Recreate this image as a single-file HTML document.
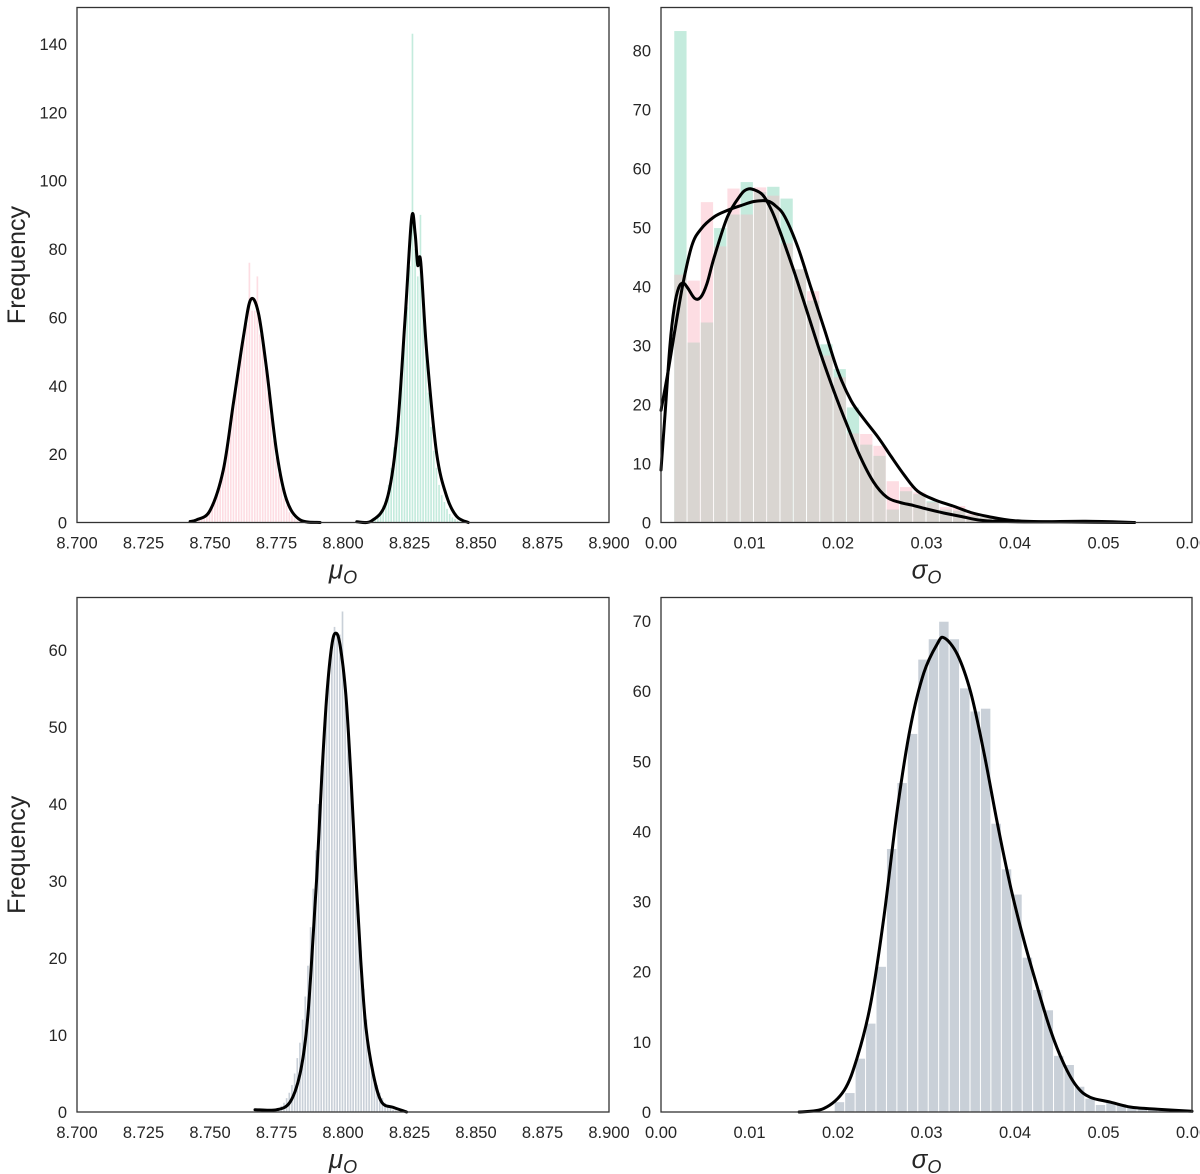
<!DOCTYPE html>
<html><head><meta charset="utf-8">
<style>
html,body{margin:0;padding:0;background:#fff;overflow:hidden;width:1200px;height:1174px}
svg{display:block}
text{font-family:"Liberation Sans",sans-serif;fill:#262626}
</style></head>
<body>
<svg id="fig" width="1200" height="1174" viewBox="0 0 1200 1174" xmlns="http://www.w3.org/2000/svg"></svg>
<script>
// ---------- data ----------
const tlPinkStart = 8.7455;
const tlPinkCounts = [1,1.5,2,2.5,3,4.5,7,9,12,15,20,25,30,35,40,45,50,54,58,76,62,62,72,55,52,45,38,31,24,19,14,10,7,5,3,2,1.2,0.6,0.3,0.1];
const tlGreenStart = 8.8088;
const tlGreenCounts = [0.2,0.3,0.5,1,2,3,5,7,11,16,22,28,36,45,55,63,75,143,80,72,90,62,50,38,28,21,16,11,8,6,4,2.5,1.5,1,0.5,0.3,0.2,0.1];
const tlPinkKdeX = [8.7425,8.7450,8.7500,8.7550,8.7588,8.7626,8.7653,8.7682,8.7713,8.7751,8.7788,8.7838,8.7914];
const tlPinkKdeY = [0.3,0.8,3.5,15.4,34.9,54.5,65.2,61.3,44.7,20.3,6.6,0.8,0];
const tlGreenKdeX = [8.8052,8.8108,8.8164,8.8202,8.8233,8.8258,8.8271,8.8281,8.8292,8.8315,8.8352,8.8390,8.8427,8.8471];
const tlGreenKdeY = [0.2,0.5,6.4,25.0,59.3,89,84.6,75.3,76.3,49.5,20.3,7.6,1.8,0];
const trStart = 0.0015;
const trGreenCounts = [83.3,30.5,33.9,49.9,52.2,57.7,56,56.9,54.9,42.9,37.6,30.2,26,19.5,13.2,11.3,2.2,5.3,4.8,3.6,2.2,2,1.2,0.9,0.5,0.4,0.3,0.2,0.2,0.1,0.1,0.1,0.2,0.1];
const trPinkCounts = [42,41,54.3,46.8,56.6,52.2,56.8,55.4,47.3,42.9,39.2,28.3,24.6,15.1,15,13,7,6,5.1,3.4,2.6,2.8,1.4,0.9,0.5,0.5,0.3,0.2,0.1,0.1,0.1,0.1,0.1,0.1];
const trKdeAX = [0,0.0008,0.0015,0.0025,0.0035,0.0045,0.006,0.0075,0.009,0.0105,0.012,0.013,0.014,0.0155,0.017,0.0185,0.02,0.0215,0.023,0.0245,0.026,0.0275,0.029,0.031,0.033,0.035,0.037,0.04,0.045,0.0535];
const trKdeAY = [19,25.6,32,40.6,47,49.7,51.8,52.9,53.7,54.4,54.5,53.6,51.8,46.5,39.5,32.6,25.6,20.6,17.4,14.5,11.2,8,5.3,3.8,2.8,1.7,1,0.3,0.1,0];
const trKdeBX = [0,0.0005,0.001,0.0015,0.002,0.0025,0.003,0.0038,0.0045,0.0052,0.006,0.0075,0.009,0.0098,0.0105,0.0115,0.0125,0.0135,0.015,0.0165,0.018,0.0195,0.021,0.0225,0.024,0.0255,0.027,0.0285,0.03,0.032,0.034,0.036,0.038,0.042,0.048,0.0535];
const trKdeBY = [8.9,19.2,29.9,36.5,39.8,40.6,39.8,38,38.2,40.5,44.9,51.8,55.5,56.5,56.4,55.5,52.9,49.1,42.7,35.8,28.8,22.4,16.6,11.2,6.9,4.3,3.4,2.9,2.3,1.6,1,0.4,0.2,0.1,0.2,0];
const blStart = 8.7745;
const blCounts = [0.3,0.5,0.8,1.2,1.8,2.5,3.5,5,7,9,12,15,19,24,29,34,40,45,50,55,58,61,63,62,62,65,56,51,45,39,33,27,21,16,12,8.5,6,4.5,3.5,2.5,1.8,1.2,0.8,0.5,0.3,0.2];
const blKdeX = [8.7669,8.7751,8.7801,8.7838,8.7864,8.7882,8.7901,8.7920,8.7939,8.7958,8.7973,8.7989,8.8011,8.8030,8.8049,8.8067,8.8086,8.8114,8.8145,8.8189,8.8239];
const blKdeY = [0.3,0.3,1.3,4.9,11,19.6,30.4,43.4,54.1,60.6,62.2,60.6,54.1,43.4,30.4,19.6,11,4.9,1.3,0.6,0];
const brStart = 0.01963;
const brCounts = [1.4,2.7,7.6,12.6,20.7,37.5,46.9,53.9,64.5,67.4,69.9,67.4,60.4,57.1,57.5,41.1,34.6,31.0,22.0,17.4,14.5,8.0,6.7,3.6,1.9,1.0,1.4,1.1,0.7,0.4,0.3,0.2];
const brKdeX = [0.0156,0.0184,0.0207,0.0222,0.0237,0.0252,0.0267,0.0282,0.0297,0.0312,0.0320,0.0335,0.0350,0.0365,0.0380,0.0395,0.0410,0.0425,0.0440,0.0455,0.0470,0.0485,0.0508,0.0531,0.0561,0.0600];
const brKdeY = [0,0.5,3.1,7.9,15.5,27.9,43.1,55,62.6,66.7,67.6,65.2,59.8,51.2,41.2,32.1,24.5,17.9,11.7,6.9,3.6,2.1,1.4,0.7,0.4,0.1];
const muTicks = ["8.700","8.725","8.750","8.775","8.800","8.825","8.850","8.875","8.900"];
const sigTicks = ["0.00","0.01","0.02","0.03","0.04","0.05","0.06"];
const tlYTicks = [0,20,40,60,80,100,120,140];
const trYTicks = [0,10,20,30,40,50,60,70,80];
const blYTicks = [0,10,20,30,40,50,60];
const brYTicks = [0,10,20,30,40,50,60,70];

// ---------- drawing ----------
const NS = "http://www.w3.org/2000/svg";
const svg = document.getElementById('fig');
function mk(tag, attrs, parent){
  const e = document.createElementNS(NS, tag);
  for (const k in attrs) e.setAttribute(k, attrs[k]);
  (parent||svg).appendChild(e);
  return e;
}
function panel(name, x0, x1, y0, y1, xmin, xmax, ymax){
  const g = mk('g', {});
  
  
  const sx = v => x0 + (v - xmin) / (xmax - xmin) * (x1 - x0);
  const sy = v => y1 - v / ymax * (y1 - y0);
  return {g, sx, sy, x0, x1, y0, y1};
}
function bars(P, start, width, counts, color, name){
  counts.forEach((c, i) => {
    const a = P.sx(start + i*width), b = P.sx(start + (i+1)*width);
    const r = mk('rect', {x: a, y: P.sy(c), width: Math.max(0.6, b - a - 1), height: P.y1 - P.sy(c), fill: color}, P.g);
    
    
  });
}
function overlapBars(P, start, width, g, p, name){
  g.forEach((gv, i) => {
    const pv = p[i];
    const a = P.sx(start + i*width), b = P.sx(start + (i+1)*width);
    const w = Math.max(0.6, b - a - 1);
    const hi = Math.max(gv, pv), lo = Math.min(gv, pv);
    const top = mk('rect', {x: a, y: P.sy(hi), width: w, height: P.y1 - P.sy(hi), fill: gv >= pv ? '#c4ebdd' : '#fddde3'}, P.g);
    
    
    const ov = mk('rect', {x: a, y: P.sy(lo), width: w, height: P.y1 - P.sy(lo), fill: '#d9d5d1'}, P.g);
    
    
  });
}
function kde(P, xs, ys, name){
  const pts = xs.map((v, i) => [P.sx(v), P.sy(ys[i])]);
  let d = 'M' + pts[0][0].toFixed(1) + ',' + pts[0][1].toFixed(1);
  for (let i = 0; i < pts.length - 1; i++){
    const p0 = pts[Math.max(0, i-1)], p1 = pts[i], p2 = pts[i+1], p3 = pts[Math.min(pts.length-1, i+2)];
    const c1x = p1[0] + (p2[0]-p0[0])/6, c1y = p1[1] + (p2[1]-p0[1])/6;
    const c2x = p2[0] - (p3[0]-p1[0])/6, c2y = p2[1] - (p3[1]-p1[1])/6;
    d += ' C' + c1x.toFixed(1) + ',' + c1y.toFixed(1) + ' ' + c2x.toFixed(1) + ',' + c2y.toFixed(1) + ' ' + p2[0].toFixed(1) + ',' + p2[1].toFixed(1);
  }
  const p = mk('path', {d, fill: 'none', stroke: '#000', 'stroke-width': 3, 'stroke-linejoin': 'round', 'stroke-linecap': 'round'}, P.g);
  
  
}
function axes(P, xticks, xmin, step, yticks, xlab, showFreq){
  const f = mk('rect', {x: P.x0, y: P.y0, width: P.x1 - P.x0, height: P.y1 - P.y0, fill: 'none', stroke: '#333', 'stroke-width': 1.3}, P.g);
  
  
  xticks.forEach((t, i) => {
    const tx = mk('text', {x: P.sx(xmin + i*step), y: P.y1 + 26, 'font-size': 16.5, 'text-anchor': 'middle'}, P.g);
    tx.textContent = t;
    
    
  });
  yticks.forEach(t => {
    const ty = mk('text', {x: P.x0 - 10, y: P.sy(t) + 6, 'font-size': 16.5, 'text-anchor': 'end'}, P.g);
    ty.textContent = t;
    
    
  });
  const xl = mk('text', {x: (P.x0 + P.x1)/2, y: P.y1 + 56, 'font-size': 26, 'text-anchor': 'middle', 'font-style': 'italic'}, P.g);
  xl.innerHTML = xlab + '<tspan font-size="18" dy="5">O</tspan>';
  
  
  if (showFreq){
    const cy = (P.y0 + P.y1)/2;
    const yl = mk('text', {x: 25, y: cy, 'font-size': 25, 'text-anchor': 'middle', transform: 'rotate(-90 25 ' + cy + ')'}, P.g);
    yl.textContent = 'Frequency';
    
    
  }
}

const TL = panel('panel-mu-top', 77, 609, 7.5, 522.5, 8.7, 8.9, 515/3.418);
bars(TL, tlPinkStart, 0.001, tlPinkCounts, '#fddde3', 'pink-bar');
bars(TL, tlGreenStart, 0.001, tlGreenCounts, '#c4ebdd', 'green-bar');
kde(TL, tlPinkKdeX, tlPinkKdeY, 'kde-pink');
kde(TL, tlGreenKdeX, tlGreenKdeY, 'kde-green');
axes(TL, muTicks, 8.7, 0.025, tlYTicks, 'μ', true);

const TR = panel('panel-sigma-top', 661, 1192, 7.5, 522.5, 0, 0.06, 515/5.9);
overlapBars(TR, trStart, 0.0015, trGreenCounts, trPinkCounts, 'sigma-bar');
kde(TR, trKdeAX, trKdeAY, 'kde-sigma-a');
kde(TR, trKdeBX, trKdeBY, 'kde-sigma-b');
axes(TR, sigTicks, 0, 0.01, trYTicks, 'σ', false);

const BL = panel('panel-mu-bottom', 77, 609, 597.5, 1112, 8.7, 8.9, 514.5/7.7);
bars(BL, blStart, 0.001, blCounts, '#c9d0d8', 'gray-bar');
kde(BL, blKdeX, blKdeY, 'kde-mu-combined');
axes(BL, muTicks, 8.7, 0.025, blYTicks, 'μ', true);

const BR = panel('panel-sigma-bottom', 661, 1192, 597.5, 1112, 0, 0.06, 514.5/7.014);
bars(BR, brStart, 0.00118, brCounts, '#c9d0d8', 'gray-bar');
kde(BR, brKdeX, brKdeY, 'kde-sigma-combined');
axes(BR, sigTicks, 0, 0.01, brYTicks, 'σ', false);
</script>
</body></html>
